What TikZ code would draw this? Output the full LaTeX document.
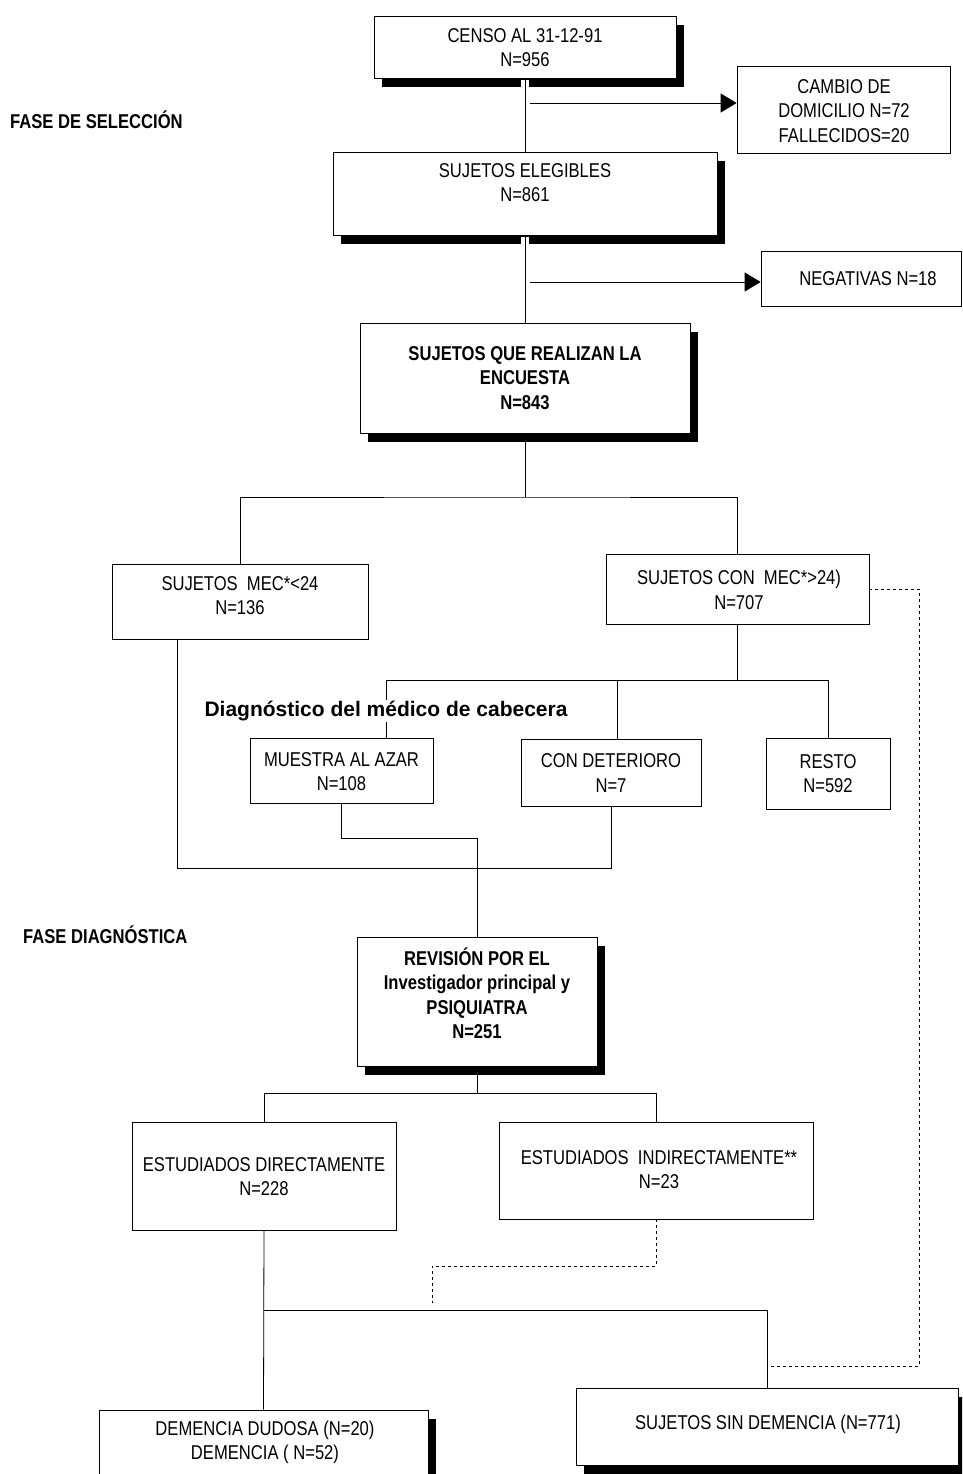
\documentclass[tikz,border=0pt]{standalone}
\usepackage{fontspec}
\setmainfont{Liberation Sans}[FakeStretch=0.83]
\newfontfamily\widesans{Liberation Sans}
\usetikzlibrary{arrows.meta,shadows}
\begin{document}
\begin{tikzpicture}[x=1pt,y=-1pt,
  every node/.style={font=\fontsize{20}{24.5}\selectfont},
  box/.style={draw=black, fill=white, line width=0.8pt, inner sep=0pt},
  shbox/.style={box, drop shadow={shadow xshift=8pt, shadow yshift=-9pt, fill=black, opacity=1}},
  txt/.style={align=center, inner sep=0pt},
  btxt/.style={txt, font=\fontsize{20}{24.5}\selectfont\bfseries},
  fase/.style={inner sep=0pt, anchor=west, font=\fontsize{20}{22}\selectfont\bfseries},
  link/.style={draw=black, line width=0.8pt},
  dlink/.style={link, dash pattern=on 3pt off 3pt},
  arr/.style={link, -{Triangle[length=16pt,width=19pt]}},
  gapline/.style={draw=white, line width=8pt}
]
\useasboundingbox (0,0) rectangle (962,1474);
\clip (0,0) rectangle (962,1474);
\fill[white] (0,0) rectangle (962,1474);

% phase labels
\node[fase] (fase1) at (10,120) {FASE DE SELECCIÓN};
\node[fase] (fase2) at (23,935) {FASE DIAGNÓSTICA};

% boxes
\node[shbox, minimum width=302pt, minimum height=62pt] (censo) at (525,47) {};
\node[txt] (censot) at (525,47.5) {CENSO AL 31-12-91\\N=956};

\node[box, minimum width=213pt, minimum height=87pt] (cambio) at (843.5,109.5) {};
\node[txt] (cambiot) at (844,111) {CAMBIO DE\\DOMICILIO N=72\\FALLECIDOS=20};

\node[shbox, minimum width=384pt, minimum height=83pt] (eleg) at (525,193.5) {};
\node[txt] (elegt) at (525,182.5) {SUJETOS ELEGIBLES\\N=861};

\node[box, minimum width=200pt, minimum height=55pt] (neg) at (861,278.5) {};
\node[txt] (negt) at (868,279) {NEGATIVAS N=18};

\node[shbox, minimum width=330pt, minimum height=110pt] (enc) at (525,378) {};
\node[btxt] (enct) at (525,378) {SUJETOS QUE REALIZAN LA\\ENCUESTA\\N=843};

\node[box, minimum width=256pt, minimum height=75pt] (mec24) at (240,601.5) {};
\node[txt] (mec24t) at (240,595.5) {SUJETOS\ \ MEC*<24\\N=136};

\node[box, minimum width=263pt, minimum height=70pt] (mec) at (737.5,589) {};
\node[txt] (mect) at (739,590) {SUJETOS CON\ \ MEC*>24)\\N=707};

\node[box, minimum width=183pt, minimum height=65pt] (muestra) at (341.5,770.5) {};
\node[txt] (muestrat) at (341.5,771.5) {MUESTRA AL AZAR\\N=108};

\node[box, minimum width=180pt, minimum height=67pt] (deter) at (611,772.5) {};
\node[txt] (detert) at (611,773) {CON DETERIORO\\N=7};

\node[box, minimum width=124pt, minimum height=71pt] (resto) at (828,773.5) {};
\node[txt] (restot) at (828,773.5) {RESTO\\N=592};

\node[shbox, minimum width=240pt, minimum height=129pt] (rev) at (477,1001.5) {};
\node[btxt] (revt) at (477,993) {REVISIÓN POR EL\\Investigador principal y\\PSIQUIATRA\\N=251};

\node[box, minimum width=264pt, minimum height=108pt] (dir) at (264,1176) {};
\node[txt] (dirt) at (264,1176.5) {ESTUDIADOS DIRECTAMENTE\\N=228};

\node[box, minimum width=314pt, minimum height=97pt] (ind) at (656,1170.5) {};
\node[txt] (indt) at (659,1169.5) {ESTUDIADOS\ \ INDIRECTAMENTE**\\N=23};

\node[shbox, minimum width=329pt, minimum height=90pt] (dem) at (263.5,1455) {};
\node[txt] (demt) at (265,1442.5) {DEMENCIA DUDOSA (N=20)\\DEMENCIA ( N=52)};

\node[shbox, minimum width=382pt, minimum height=77pt] (sin) at (767,1426.5) {};
\node[txt] (sint) at (768,1424) {SUJETOS SIN DEMENCIA (N=771)};

% selection phase connectors
\path[gapline] ([yshift=-1.5pt]censo.south) -- ++(0,10);
\draw[link] (censo.south) -- (eleg.north);
\path[gapline] ([yshift=-1.5pt]eleg.south) -- ++(0,10);
\draw[link] (eleg.south) -- (enc.north);
\coordinate (a1) at (530,103);
\draw[arr] (a1) -- (a1 -| cambio.west);
\coordinate (a2) at (530,282);
\draw[arr] (a2) -- (a2 -| neg.west);

\coordinate (j1) at (525,497);
\draw[link] (enc.south) -- (j1);
\draw[link] (mec24.north) |- (j1) -| (mec.north);

% second level
\coordinate (h1) at (386,680);
\coordinate (h2) at (828,680);
\coordinate (h3) at (617,680);
\draw[link] (mec.south) -- (mec.south |- h1);
\draw[link] (h1) -- (h2) -- (resto.north);
\draw[link] (h1) -- (h1 |- muestra.north);
\draw[link] (h3) -- (h3 |- deter.north);
\node[inner sep=1.5pt, fill=white, font=\widesans\fontsize{21}{24}\selectfont\bfseries] (diag) at (386,711) {Diagnóstico del médico de cabecera};

\coordinate (k1) at (477,838);
\draw[link] (muestra.south) |- (k1) -- (rev.north);
\coordinate (k2) at (177,868);
\draw[link] (mec24.south -| k2) -- (k2) -| (deter.south);

% diagnostic phase
\coordinate (j2) at (477,1093);
\draw[link] (rev.south) -- (j2);
\draw[link] (dir.north) |- (j2) -| (ind.north);
\draw[link] (dir.south) -- (dem.north);
\coordinate (k3) at (264,1310);
\draw[link] (k3) -| (sin.north);

\coordinate (k5) at (432,1266);
\coordinate (k4) at (432,1303);
\draw[dlink] (ind.south) |- (k5) -- (k4);
\coordinate (k6) at (919,1366);
\coordinate (k7) at (770,1366);
\draw[dlink] (mec.east) -| (k6) -- (k7);
\end{tikzpicture}
\end{document}
